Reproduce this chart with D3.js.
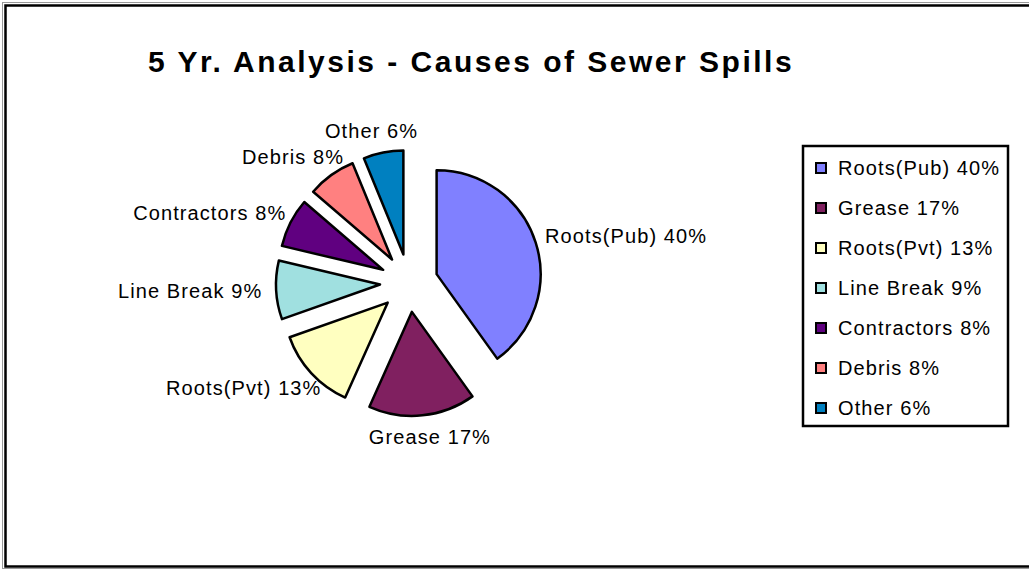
<!DOCTYPE html>
<html>
<head>
<meta charset="utf-8">
<script src="https://cdn.jsdelivr.net/npm/d3@7"></script>
<style>
body{margin:0;background:#fff;}
svg text{font-family:"Liberation Sans",Arial,sans-serif;fill:#000;}
</style>
</head>
<body>
<svg id="chart"></svg>
<script>
// values (percent share of spills)
let causes = ["Roots(Pub)", "Grease", "Roots(Pvt)", "Line Break", "Contractors", "Debris", "Other"]
let shares = [40.1, 16.6, 12.9, 9.1, 7.6, 7.5, 6.2]
let pctLabels = ["40%", "17%", "13%", "9%", "8%", "8%", "6%"]
let sliceColors = ["#8080ff", "#802060", "#ffffc0", "#a0e0e0", "#600080", "#ff8080", "#0080c0"]

const w = 1029
const h = 569
const cx = 409, cy = 283 //pie centre
const radius = 104
const explode = 29 //how far each slice is pulled out
const labelR = 147

let svg = d3.select("#chart").attr("width", w).attr("height", h)

//outer frame, right edge runs off the page
svg.append("rect").attr("x", 2.5).attr("y", 2.5).attr("width", w + 20).attr("height", h - 3)
  .attr("fill", "none").attr("stroke", "#999").attr("stroke-width", 1)
svg.append("rect").attr("x", 5.5).attr("y", 5.5).attr("width", w + 20).attr("height", h - 8)
  .attr("fill", "none").attr("stroke", "#000").attr("stroke-width", 2.5)

svg.append("text")
  .attr("x", 148).attr("y", 72)
  .style("font-size", "30px").style("font-weight", "bold").style("letter-spacing", "2.5px")
  .text("5 Yr. Analysis - Causes of Sewer Spills")

let data = causes.map((c, i) => ({name: c, value: shares[i], pct: pctLabels[i], color: sliceColors[i]}))

let pie = d3.pie().sort(null).value(d => d.value).startAngle(0).endAngle(2 * Math.PI)
let arc = d3.arc().innerRadius(0).outerRadius(radius)
let arcs = pie(data)

let pieG = svg.append("g").attr("transform", "translate(" + cx + "," + cy + ")")

pieG.selectAll("path")
  .data(arcs)
  .enter()
  .append("path")
  .attr("d", arc)
  .attr("fill", d => d.data.color)
  .attr("stroke", "#000")
  .attr("stroke-width", 2.5)
  .attr("stroke-linejoin", "round")
  .attr("transform", d => {
    let mid = (d.startAngle + d.endAngle) / 2
    return "translate(" + explode * Math.sin(mid) + "," + (-explode * Math.cos(mid)) + ")"
  })

//labels sit outside each slice, pushed away by half the label box
let labels = pieG.selectAll("text.lbl")
  .data(arcs)
  .enter()
  .append("text")
  .attr("class", "lbl")
  .style("font-size", "20px").style("letter-spacing", "1.1px")
  .attr("text-anchor", "middle")
  .attr("dominant-baseline", "central")
  .text(d => d.data.name + " " + d.data.pct)

labels.each(function (d) {
  let mid = (d.startAngle + d.endAngle) / 2
  let dx = Math.sin(mid), dy = -Math.cos(mid)
  let bw = this.getComputedTextLength()
  let bh = 16
  d3.select(this)
    .attr("x", labelR * dx + bw / 2 * dx)
    .attr("y", labelR * dy + bh / 2 * dy)
})

//legend
let lg = svg.append("g").attr("transform", "translate(803,146)")
lg.append("rect").attr("width", 205).attr("height", 280)
  .attr("fill", "#fff").attr("stroke", "#000").attr("stroke-width", 2.5)

let rows = lg.selectAll("g.row")
  .data(data)
  .enter()
  .append("g")
  .attr("class", "row")
  .attr("transform", (d, i) => "translate(0," + (22 + i * 40) + ")")

rows.append("rect")
  .attr("x", 13).attr("y", -5).attr("width", 10).attr("height", 10)
  .attr("fill", d => d.color).attr("stroke", "#000").attr("stroke-width", 2)

rows.append("text")
  .attr("x", 35).attr("y", 0)
  .attr("dominant-baseline", "central")
  .style("font-size", "20px").style("letter-spacing", "1.1px")
  .text(d => d.name + " " + d.pct)
</script>
</body>
</html>
